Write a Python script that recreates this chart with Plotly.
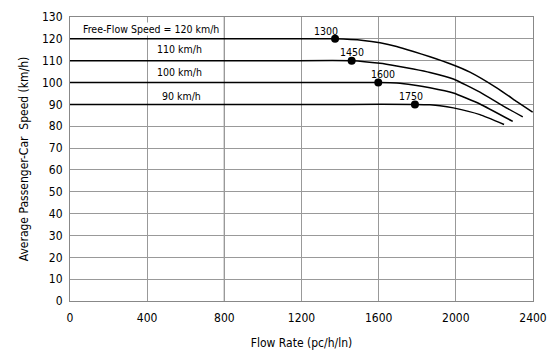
import plotly.graph_objects as go

# Free-flow speeds (km/h)
ffs = [120, 110, 100, 90]
# Breakpoint labels (pc/h/ln)
breakpoint_labels = ["1300", "1450", "1600", "1750"]
# Breakpoint dot positions
dot_x = [1374, 1460, 1598, 1788]

# Speed-flow curves
curve_120_x = [0, 1000, 1374, 1520, 1607, 1693, 1780, 1866, 1970, 2073, 2212, 2316, 2398]
curve_120_y = [120, 120, 120, 119.3, 118.2, 116.5, 114.2, 111.8, 108.6, 104.8, 97.6, 91.3, 86.4]
curve_110_x = [0, 1100, 1460, 1607, 1693, 1780, 1866, 1987, 2125, 2246, 2347]
curve_110_y = [110, 110, 110, 108.8, 107.6, 106.2, 104.6, 101.6, 95.6, 89.2, 84.3]
curve_100_x = [0, 1250, 1598, 1693, 1780, 1866, 1987, 2125, 2295]
curve_100_y = [100, 100, 100, 99.8, 98.9, 97.6, 95.2, 90.2, 82.2]
curve_90_x = [0, 1450, 1788, 1866, 1918, 1987, 2125, 2250]
curve_90_y = [90, 90, 90, 89.8, 89.4, 88.4, 85.3, 80.8]

curves_x = [curve_120_x, curve_110_x, curve_100_x, curve_90_x]
curves_y = [curve_120_y, curve_110_y, curve_100_y, curve_90_y]

ffs_labels = ["Free-Flow Speed = 120 km/h", "110 km/h", "100 km/h", "90 km/h"]
ffs_label_x = [62, 570, 570, 580]
ffs_label_y = [124.6, 115.4, 104.7, 94.0]
ffs_label_anchor = ["left", "center", "center", "center"]
bp_label_x = [1327, 1460, 1621, 1766]
bp_label_y = [123.5, 113.9, 104.1, 94.0]

x_ticks = [0, 400, 800, 1200, 1600, 2000, 2400]
y_ticks = list(range(0, 131, 10))
dark_grid_x = [800]

FONT = "DejaVu Sans Condensed"

fig = go.Figure()

for cx, cy in zip(curves_x, curves_y):
    fig.add_trace(go.Scatter(
        x=cx, y=cy, mode="lines",
        line=dict(color="black", width=1.5, shape="spline", smoothing=0.4),
        showlegend=False, hoverinfo="skip", cliponaxis=False))

fig.add_trace(go.Scatter(
    x=dot_x, y=ffs, mode="markers",
    marker=dict(color="black", size=8),
    showlegend=False, hoverinfo="skip"))

for xv in dark_grid_x:
    fig.add_vline(x=xv, line=dict(color="#222", width=1), layer="below")

for t, xv, yv, xa in zip(ffs_labels, ffs_label_x, ffs_label_y, ffs_label_anchor):
    fig.add_annotation(x=xv, y=yv, text=t, showarrow=False, xanchor=xa,
                       font=dict(family=FONT, size=10.5, color="black"),
                       bgcolor="white", borderpad=0)

for t, xv, yv in zip(breakpoint_labels, bp_label_x, bp_label_y):
    fig.add_annotation(x=xv, y=yv, text=t, showarrow=False,
                       font=dict(family=FONT, size=10.5, color="black"))

fig.update_xaxes(
    range=[0, 2400], tickvals=x_ticks, ticktext=[str(v) for v in x_ticks],
    showgrid=True, gridcolor="#999", gridwidth=1,
    showline=True, mirror=True, linecolor="#888", linewidth=1,
    zeroline=False, ticks="", ticklabelstandoff=6, automargin=False,
    tickfont=dict(family=FONT, size=12, color="black"),
    title=dict(text="Flow Rate (pc/h/ln)", standoff=14,
               font=dict(family=FONT, size=12, color="black")))
fig.update_yaxes(
    range=[0, 130], tickvals=y_ticks, ticktext=[str(v) for v in y_ticks],
    showgrid=True, gridcolor="#999", gridwidth=1,
    showline=True, mirror=True, linecolor="#888", linewidth=1,
    zeroline=False, ticks="", ticklabelstandoff=4, automargin=False,
    tickfont=dict(family=FONT, size=12, color="black"),
    title=dict(text="Average Passenger-Car  Speed (km/h)", standoff=10,
               font=dict(family=FONT, size=12, color="black")))

fig.update_layout(
    width=555, height=352,
    margin=dict(l=70, r=22, t=17, b=51),
    paper_bgcolor="white", plot_bgcolor="white",
)

fig.write_html("out.html", config={"displayModeBar": False},
               post_script="document.body.style.margin='0';")
